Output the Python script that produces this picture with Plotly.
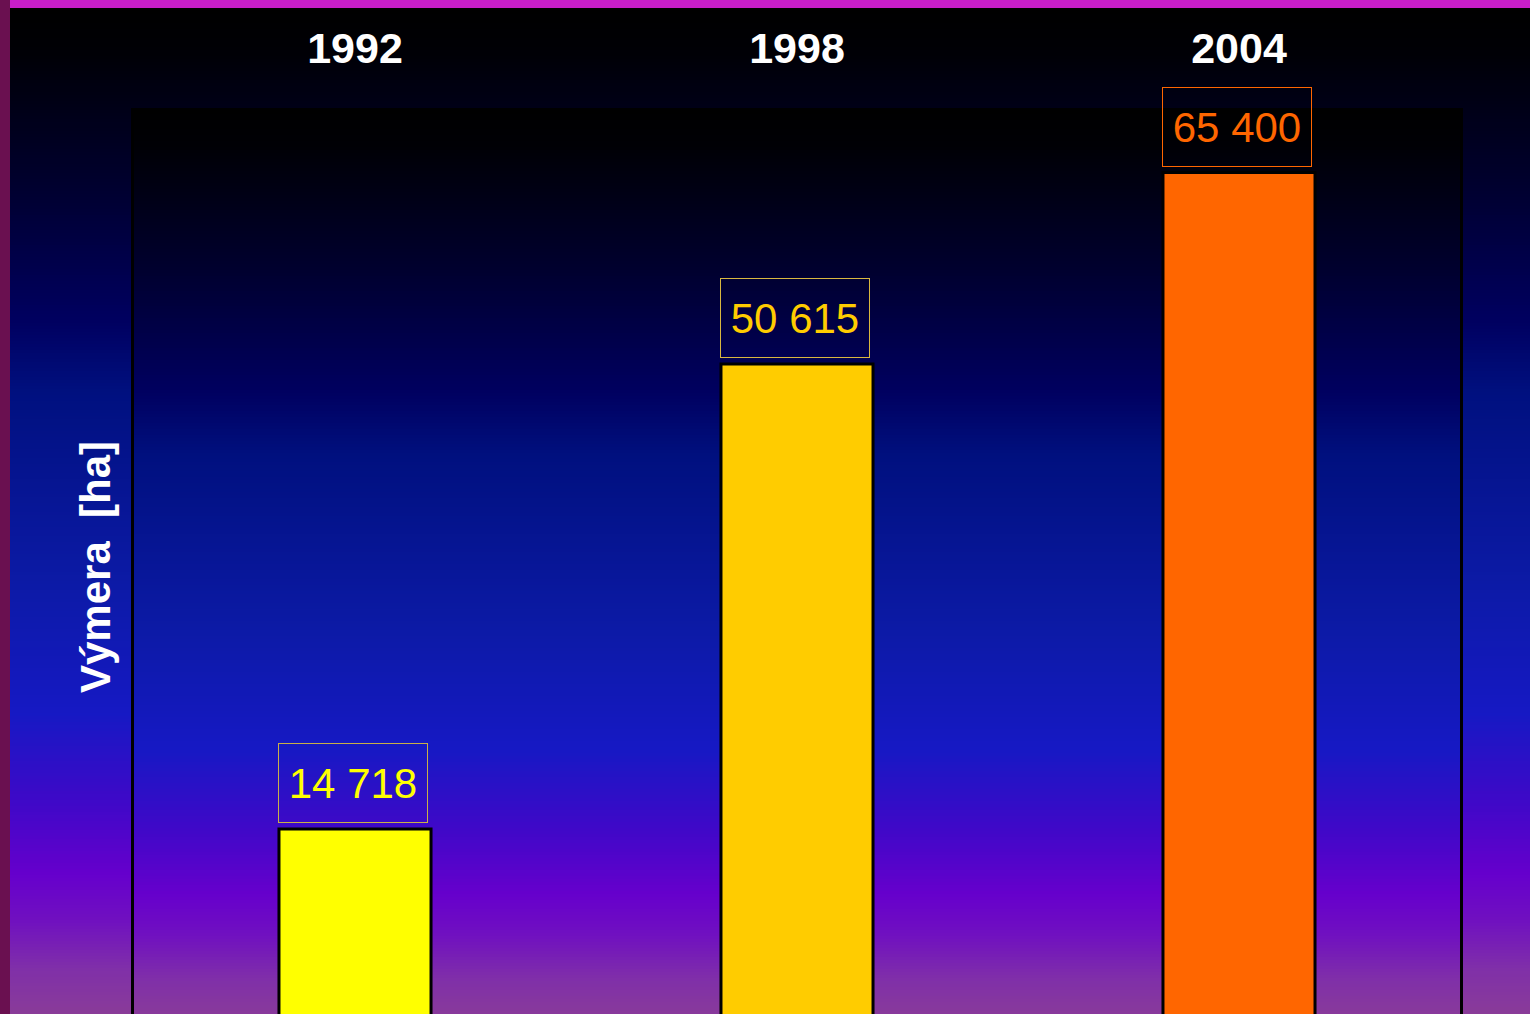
import plotly.graph_objects as go

# ---- data ----
years = ["1992", "1998", "2004"]
areas = [14718, 50615, 65400]
y_title = "Výmera\u00a0 [ha]"

# ---- styles ----
bar_colors = ["#FFFF00", "#FFCC00", "#FF6600"]
label_colors = ["#FFFF00", "#FFCC00", "#FF6600"]
box_colors = ["#C8B048", "#D8B840", "#FF6600"]

W, H = 1530, 1014
PL, PR, PT, PB = 134, 1460, 108, 1014  # plot area in pixels

xpos = list(range(len(years)))


def px_x(px):
    return (px - PL) / (PR - PL)


def px_y(py):
    return (PB - py) / (PB - PT)


stops = [
    (0.00, (0, 0, 0)), (0.04, (0, 0, 5)), (0.18, (0, 0, 48)),
    (0.31, (0, 0, 96)), (0.38, (0, 16, 127)), (0.57, (12, 26, 166)),
    (0.70, (22, 25, 196)), (0.79, (64, 8, 200)), (0.86, (102, 0, 204)),
    (0.905, (112, 16, 192)), (0.955, (128, 48, 168)), (1.00, (138, 60, 152)),
]


def grad(t):
    t = max(0.0, min(1.0, t))
    for (t0, c0), (t1, c1) in zip(stops[:-1], stops[1:]):
        if t0 <= t <= t1:
            f = (t - t0) / (t1 - t0) if t1 > t0 else 0
            c = [round(a + (b - a) * f) for a, b in zip(c0, c1)]
            return "rgb(%d,%d,%d)" % tuple(c)
    return "rgb(138,60,152)"


shapes = []
step = 3
y = 8
while y < H:
    y2 = min(y + step, H)
    shapes.append(dict(type="rect", xref="paper", yref="paper",
                       x0=px_x(10), x1=px_x(W), y0=px_y(y2 + 0.5), y1=px_y(y),
                       fillcolor=grad((y - 8) / (H - 8)), line=dict(width=0), layer="below"))
    y = y2
y = PT
while y < PB:
    y2 = min(y + step, PB)
    shapes.append(dict(type="rect", xref="paper", yref="paper",
                       x0=0, x1=1, y0=px_y(y2 + 0.5), y1=px_y(y),
                       fillcolor=grad((y - PT) / (1020 - PT)), line=dict(width=0), layer="below"))
    y = y2
shapes.append(dict(type="rect", xref="paper", yref="paper",
                   x0=px_x(0), x1=px_x(W), y0=px_y(8), y1=px_y(0),
                   fillcolor="#C81EC8", line=dict(width=0), layer="below"))
shapes.append(dict(type="rect", xref="paper", yref="paper",
                   x0=px_x(0), x1=px_x(10), y0=px_y(H), y1=px_y(0),
                   fillcolor="#6A1050", line=dict(width=0), layer="below"))

fig = go.Figure()
fig.add_trace(go.Bar(
    x=xpos, y=areas, width=0.344,
    marker=dict(color=bar_colors, line=dict(color="black", width=3)),
    hoverinfo="skip",
))

annotations = []
for xp, v, tc, bc in zip(xpos, areas, label_colors, box_colors):
    annotations.append(dict(
        x=xp, y=v, xref="x", yref="y", text=f"{v:,}".replace(",", " "),
        showarrow=False, yanchor="bottom", xanchor="center", yshift=6, xshift=-2,
        width=148, height=78, bordercolor=bc, borderwidth=1, borderpad=0,
        font=dict(family="Liberation Sans, Arial", size=42, color=tc),
    ))
annotations.append(dict(
    x=0, y=px_y(567), xref="paper", yref="paper", xshift=-39,
    text=y_title, textangle=-90, showarrow=False, xanchor="center", yanchor="middle",
    font=dict(family="Liberation Sans, Arial", size=42, color="white", weight="bold"),
))

fig.update_layout(
    width=W, height=H,
    margin=dict(l=PL, r=W - PR, t=PT, b=H - PB, pad=0),
    paper_bgcolor="black", plot_bgcolor="rgba(0,0,0,0)",
    showlegend=False, shapes=shapes, annotations=annotations,
    xaxis=dict(range=[-0.5, len(years) - 0.5], tickmode="array", tickvals=xpos,
               ticktext=years, side="top", showgrid=False, zeroline=False,
               showline=False, ticks="", ticklabelstandoff=35,
               tickfont=dict(family="Liberation Sans, Arial", size=43,
                             color="white", weight="bold")),
    yaxis=dict(range=[440, 70380], showticklabels=False, showgrid=False,
               zeroline=False, showline=True, mirror=True, linecolor="black",
               linewidth=3, ticks=""),
)

fig.write_html("out.html", config={"displayModeBar": False},
               post_script="document.body.style.margin='0';document.body.style.overflow='hidden';")
